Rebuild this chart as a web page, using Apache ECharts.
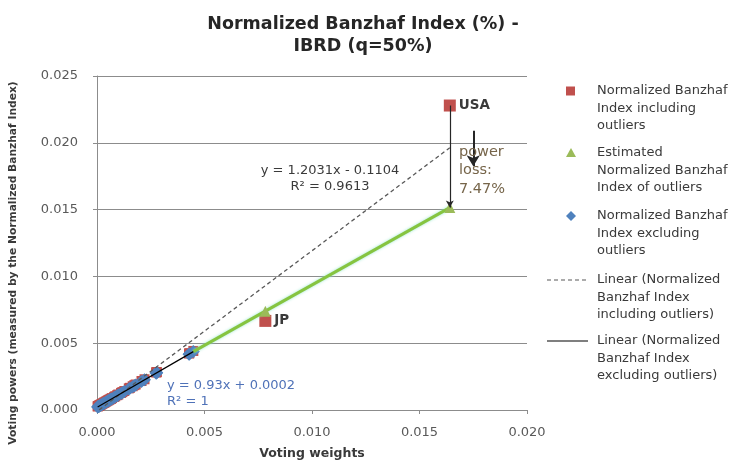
<!DOCTYPE html>
<html>
<head>
<meta charset="utf-8">
<script src="https://cdn.jsdelivr.net/npm/echarts@6/dist/echarts.min.js"></script>
<style>
  html, body { margin: 0; padding: 0; background: #ffffff; }
  #chart { width: 740px; height: 465px; }
</style>
</head>
<body>
<div id="chart"></div>
<script>
// Member countries other than the two largest shareholders
const smallWeights = [0.00448, 0.00430, 0.00428, 0.00278, 0.00277, 0.00275, 0.00221, 0.00207, 0.00180, 0.00174,
  0.00166, 0.00153, 0.00148, 0.00127, 0.00118, 0.00112, 0.00099, 0.00094, 0.00085, 0.00080,
  0.00070, 0.00065, 0.00063, 0.00058, 0.00054, 0.00050, 0.00045, 0.00041, 0.00036, 0.00033,
  0.00030, 0.00026, 0.00022, 0.00018, 0.00015, 0.00012, 0.00010, 0.00008, 0.00006, 0.00004, 0.00003];
// Normalized Banzhaf index computed without the outliers
const powerExcl = [0.00437, 0.00420, 0.00418, 0.00279, 0.00278, 0.00276, 0.00226, 0.00213, 0.00187, 0.00182,
  0.00174, 0.00162, 0.00158, 0.00138, 0.00130, 0.00124, 0.00112, 0.00107, 0.00099, 0.00094,
  0.00085, 0.00080, 0.00079, 0.00074, 0.00070, 0.00067, 0.00062, 0.00058, 0.00053, 0.00051,
  0.00048, 0.00044, 0.00040, 0.00037, 0.00034, 0.00031, 0.00029, 0.00027, 0.00026, 0.00024, 0.00023];
// Normalized Banzhaf index of the same countries with the outliers included
const powerIncl = [0.00442, 0.00425, 0.00423, 0.00284, 0.00283, 0.00281, 0.00230, 0.00217, 0.00191, 0.00186,
  0.00178, 0.00166, 0.00162, 0.00142, 0.00134, 0.00128, 0.00116, 0.00111, 0.00103, 0.00098,
  0.00089, 0.00084, 0.00083, 0.00078, 0.00074, 0.00071, 0.00066, 0.00062, 0.00057, 0.00055,
  0.00052, 0.00048, 0.00044, 0.00041, 0.00038, 0.00035, 0.00033, 0.00031, 0.00030, 0.00028, 0.00027];

// Outliers
const outlierNames = ['USA', 'JP'];
const outlierWeights = [0.01641, 0.00783];
const outlierPower = [0.02279, 0.00667];
const outlierEstimate = [0.01515, 0.00740];

// Linear trendlines (end points)
const trendInclX = [0.00010, 0.01641];
const trendInclY = [0.00001, 0.01963];
const trendExclX = [0.00003, 0.00448];
const trendExclY = [0.00023, 0.00437];

// Axis ranges
const xMin = 0, xMax = 0.020, xStep = 0.005;
const yMin = 0, yMax = 0.025, yStep = 0.005;

const RED = '#c0504d', BLUE = '#4f81bd', GREEN = '#9bbb59', GREEN_LINE = '#86c440';
const FONT = '"DejaVu Sans", "Liberation Sans", sans-serif';
const TEXT = '#3a3a3a';

const zip = (xs, ys) => xs.map((x, i) => [x, ys[i]]);

const redData = zip(smallWeights, powerIncl).concat(outlierWeights.map((x, i) => ({
  value: [x, outlierPower[i]],
  symbolSize: 12,
  label: { show: true, formatter: outlierNames[i], position: 'right', distance: 3,
           color: TEXT, fontFamily: FONT, fontWeight: 'bold', fontSize: 13.5 }
})));
const blueData = zip(smallWeights, powerExcl);

// Estimated line for the outliers, starting from the largest non-outlier member
const estPoints = zip(outlierWeights, outlierEstimate).sort((a, b) => a[0] - b[0]);
const greenData = [{ value: [smallWeights[0], powerExcl[0]], symbolSize: 0 }].concat(estPoints);

const chart = echarts.init(document.getElementById('chart'), null, { renderer: 'canvas' });

// Legend entries (drawn with the plot's own marker styles)
const legendItems = [
  { y: 91, kind: 'rect', color: RED, text: 'Normalized Banzhaf\nIndex including\noutliers' },
  { y: 153, kind: 'triangle', color: GREEN, text: 'Estimated\nNormalized Banzhaf\nIndex of outliers' },
  { y: 216, kind: 'diamond', color: BLUE, text: 'Normalized Banzhaf\nIndex excluding\noutliers' },
  { y: 280, kind: 'dash', color: '#595959', text: 'Linear (Normalized\nBanzhaf Index\nincluding outliers)' },
  { y: 341, kind: 'solid', color: '#000000', text: 'Linear (Normalized\nBanzhaf Index\nexcluding outliers)' }
];
const LH = 17.5;
const legendGraphics = [];
legendItems.forEach(it => {
  if (it.kind === 'rect') {
    legendGraphics.push({ type: 'rect', shape: { x: 566, y: it.y - 4.5, width: 9, height: 9 }, style: { fill: it.color } });
  } else if (it.kind === 'triangle') {
    legendGraphics.push({ type: 'polygon', shape: { points: [[571, it.y - 5], [576, it.y + 4], [566, it.y + 4]] }, style: { fill: it.color } });
  } else if (it.kind === 'diamond') {
    legendGraphics.push({ type: 'polygon', shape: { points: [[571, it.y - 5], [576, it.y], [571, it.y + 5], [566, it.y]] }, style: { fill: it.color } });
  } else {
    legendGraphics.push({ type: 'line', shape: { x1: 547, y1: it.y, x2: 588, y2: it.y },
      style: { stroke: it.color, lineWidth: 1.2, lineDash: it.kind === 'dash' ? [4, 3] : null } });
  }
  legendGraphics.push({ type: 'text', x: 597, y: it.y - LH / 2,
    style: { text: it.text, font: '13px ' + FONT, fill: TEXT, lineHeight: LH, verticalAlign: 'top', align: 'left' } });
});

const option = {
  backgroundColor: '#ffffff',
  animation: false,
  title: {
    text: 'Normalized Banzhaf Index (%) -\nIBRD (q=50%)',
    left: 358, top: 8, textAlign: 'center',
    textStyle: { fontFamily: FONT, fontWeight: 'bold', fontSize: 17.5, color: '#262626', lineHeight: 22 }
  },
  grid: { left: 93, right: 213, top: 76, bottom: 50, containLabel: false },
  xAxis: {
    type: 'value', min: xMin, max: xMax, interval: xStep,
    name: 'Voting weights', nameLocation: 'middle', nameGap: 37,
    nameTextStyle: { fontFamily: FONT, fontWeight: 'bold', fontSize: 12.5, color: TEXT },
    axisLine: { show: true, lineStyle: { color: '#8c8c8c', width: 1 } },
    axisTick: { show: true, length: 4, lineStyle: { color: '#8c8c8c' } },
    axisLabel: { formatter: v => v.toFixed(3), fontFamily: FONT, fontSize: 13, color: '#595959', margin: 16 },
    splitLine: { show: false }
  },
  yAxis: {
    type: 'value', min: yMin, max: yMax, interval: yStep,
    name: 'Voting powers (measured by the Normalized Banzhaf Index)', nameLocation: 'middle', nameGap: 78,
    nameTextStyle: { fontFamily: FONT, fontWeight: 'bold', fontSize: 10.7, color: TEXT, padding: [0, 40, 0, 0] },
    axisLine: { show: true, lineStyle: { color: '#8c8c8c', width: 1 } },
    axisTick: { show: true, length: 4, lineStyle: { color: '#8c8c8c' } },
    axisLabel: { formatter: v => v.toFixed(3), fontFamily: FONT, fontSize: 13, color: '#595959', margin: 19 },
    splitLine: { show: true, lineStyle: { color: '#8c8c8c', width: 1 } }
  },
  series: [
    {
      name: 'Normalized Banzhaf Index including outliers', type: 'scatter', z: 2,
      symbol: 'rect', symbolSize: 10, itemStyle: { color: RED, opacity: 1 },
      data: redData
    },
    {
      name: 'Normalized Banzhaf Index excluding outliers', type: 'scatter', z: 3,
      symbol: 'diamond', symbolSize: 13, itemStyle: { color: BLUE, opacity: 1 },
      data: blueData
    },
    {
      name: 'Estimated Normalized Banzhaf Index of outliers', type: 'line', z: 4,
      symbol: 'triangle', symbolSize: 11, showSymbol: true,
      itemStyle: { color: GREEN, opacity: 1 },
      lineStyle: { color: GREEN_LINE, width: 3, shadowColor: 'rgba(140,230,200,0.9)', shadowBlur: 3 },
      data: greenData
    },
    {
      name: 'Linear (Normalized Banzhaf Index including outliers)', type: 'line', z: 5,
      symbol: 'none', lineStyle: { color: '#595959', width: 1.3, type: [4, 3] },
      data: zip(trendInclX, trendInclY)
    },
    {
      name: 'Linear (Normalized Banzhaf Index excluding outliers)', type: 'line', z: 5,
      symbol: 'none', lineStyle: { color: '#000000', width: 1.2 },
      data: zip(trendExclX, trendExclY)
    },
    {
      // Power-loss arrows for the USA
      type: 'scatter', z: 6, data: [], silent: true,
      markLine: {
        silent: true, animation: false, label: { show: false },
        data: [
          [{ coord: [outlierWeights[0], outlierPower[0]], symbol: 'none' },
           { coord: [outlierWeights[0], outlierEstimate[0]], symbol: 'arrow', symbolSize: [6, 7],
             lineStyle: { color: '#262626', width: 1.2, type: 'solid' } }],
          [{ coord: [0.01750, 0.02091], symbol: 'none' },
           { coord: [0.01750, 0.01825], symbol: 'arrow', symbolSize: [10, 11],
             lineStyle: { color: '#262626', width: 2, type: 'solid' } }]
        ],
        lineStyle: { color: '#262626', type: 'solid' }
      }
    }
  ],
  graphic: legendGraphics.concat([
    { type: 'text', x: 459, y: 152 - 9.25, z: 10,
      style: { text: 'power\nloss:\n7.47%', font: '14.5px ' + FONT, fill: '#76654a', lineHeight: 18.5, verticalAlign: 'top' } },
    { type: 'text', x: 330, y: 171 - 8, z: 10,
      style: { text: 'y = 1.2031x - 0.1104\nR\u00b2 = 0.9613', font: '13px ' + FONT, fill: TEXT, lineHeight: 16, align: 'center', verticalAlign: 'top' } },
    { type: 'text', x: 167, y: 386 - 8, z: 10,
      style: { text: 'y = 0.93x + 0.0002\nR\u00b2 = 1', font: '13px ' + FONT, fill: '#4f72b8', lineHeight: 15.5, align: 'left', verticalAlign: 'top' } }
  ])
};

chart.setOption(option);
</script>
</body>
</html>
